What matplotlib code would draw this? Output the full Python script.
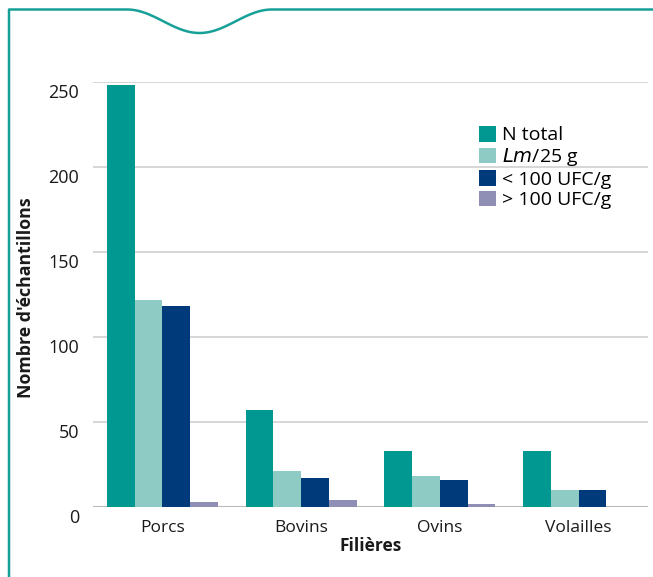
import numpy as np
import matplotlib
matplotlib.use("Agg")
import matplotlib.pyplot as plt
import matplotlib.transforms as mtransforms
from matplotlib.lines import Line2D

# data
filieres = ["Porcs", "Bovins", "Ovins", "Volailles"]
n_total = [248, 57, 33, 33]
lm_25g = [122, 21, 18, 10]
inf_100 = [118, 17, 16, 10]
sup_100 = [3, 4, 2, 0]
series_labels = ["N total", "$\\mathit{Lm}$/25 g", "< 100 UFC/g", "> 100 UFC/g"]
series_colors = ["#009891", "#8ecbc4", "#003a7b", "#8f8fb6"]
yticks = [0, 50, 100, 150, 200, 250]

W, H = 653, 577
plt.rcParams["font.family"] = ["Open Sans", "DejaVu Sans"]

fig = plt.figure(figsize=(W / 100, H / 100), dpi=100)
ax = fig.add_axes([93 / W, 1 - 507 / H, 555 / W, 425 / H])

x = np.arange(len(filieres))
width = 0.2
all_series = [n_total, lm_25g, inf_100, sup_100]
for i, (vals, lab, col) in enumerate(zip(all_series, series_labels, series_colors)):
    ax.bar(x + (i - 1.5) * width, vals, width=width, color=col, label=lab,
           linewidth=0, zorder=3)

ax.set_xlim(-0.5, 3.5)
ax.set_ylim(0, 250)
ax.set_yticks(yticks)
ax.set_xticks(x)
ax.set_xticklabels(filieres, fontsize=12.5, color="#1a1a1a")
ax.tick_params(axis="both", length=0)
ax.tick_params(axis="y", pad=10, labelsize=13, labelcolor="#1a1a1a")
ax.tick_params(axis="x", pad=9)

# y labels sit a bit below their gridlines
offset = mtransforms.ScaledTranslation(0, -9 / 100, fig.dpi_scale_trans)
for lbl in ax.get_yticklabels():
    lbl.set_transform(lbl.get_transform() + offset)

for s in ax.spines.values():
    s.set_visible(False)
ax.yaxis.grid(True, color="#cfcfcf", linewidth=1.2, zorder=0)
ax.axhline(0, color="#b8b8b8", linewidth=2.2, zorder=2)

ax.set_xlabel("Filières", fontsize=12.5, fontweight="bold", color="#1a1a1a", labelpad=1)
ax.set_ylabel("Nombre d'échantillons", fontsize=12.8, fontweight="bold", color="#1a1a1a")
ax.yaxis.set_label_coords(35 / W, 1 - 298 / H, transform=fig.transFigure)

ax.legend(loc="upper left", bbox_to_anchor=(479 / W, 1 - 126 / H),
          bbox_transform=fig.transFigure, frameon=False, fontsize=14,
          handlelength=0.85, handleheight=0.85, handletextpad=0.35,
          labelspacing=0.1, borderpad=0, borderaxespad=0)

# teal frame with wave notch
xs = np.linspace(127, 272, 100)
ys = 9.5 + 23.5 * (1 - np.cos(2 * np.pi * (xs - 127) / 145)) / 2
fx = np.concatenate([[9, 9], xs, [W + 5]])
fy = np.concatenate([[H + 5, 9.5], ys, [9.5]])
fig.add_artist(Line2D(fx / W, 1 - fy / H, transform=fig.transFigure,
                      color="#17a098", linewidth=1.8))

fig.savefig("out.png", dpi=100)
